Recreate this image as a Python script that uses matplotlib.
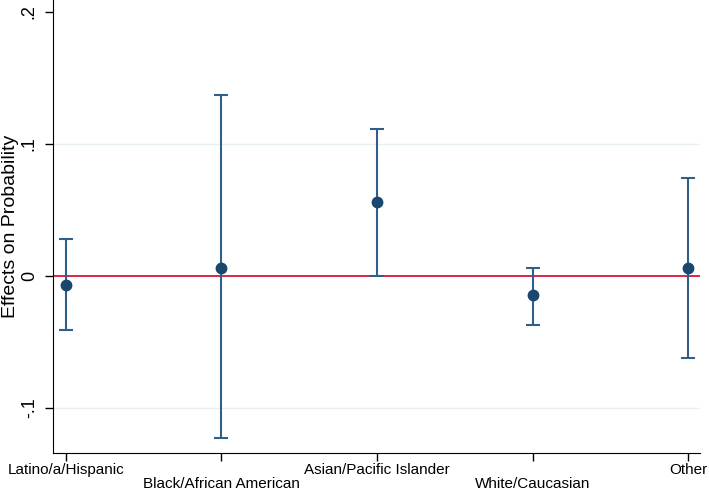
import matplotlib
matplotlib.use("Agg")
import matplotlib.pyplot as plt

plt.rcParams['font.family'] = ['Liberation Sans', 'DejaVu Sans']

# groups and estimates
groups = ["Latino/a/Hispanic", "Black/African American", "Asian/Pacific Islander",
          "White/Caucasian", "Other"]
effect = [-0.007, 0.006, 0.056, -0.0145, 0.006]
ci_low = [-0.041, -0.123, 0.0, -0.037, -0.062]
ci_high = [0.028, 0.137, 0.111, 0.006, 0.074]
yticks = [-0.1, 0, 0.1, 0.2]
ytick_labels = ["-.1", "0", ".1", ".2"]

navy = "#1a476f"
bar_col = "#2f5f8a"

fig = plt.figure(figsize=(7.09, 4.94), dpi=100)
ax = fig.add_axes([0.0748, 0.083, 0.913, 0.917])

x = list(range(1, len(groups) + 1))
err = [[e - l for e, l in zip(effect, ci_low)], [h - e for e, h in zip(effect, ci_high)]]

for yv in [-0.1, 0.1]:
    ax.axhline(yv, color="#e6eff2", lw=1.0, zorder=0)
ax.axhline(0, color="#d7264a", lw=1.4, zorder=1)

ax.errorbar(x, effect, yerr=err, fmt="none", ecolor=bar_col, elinewidth=1.5,
            capsize=5, capthick=1.5, zorder=2)
ax.plot(x, effect, "o", color=navy, ms=7.5, zorder=3)

ax.set_xlim(0.919, 5.077)
ax.set_ylim(-0.134, 0.209)
ax.set_xticks(x)
labels = ax.set_xticklabels([g if i % 2 == 0 else "\n" + g for i, g in enumerate(groups)],
                            fontsize=11)
for lab in labels:
    lab.set_linespacing(1.0)
ax.set_yticks(yticks)
ax.set_yticklabels(ytick_labels, fontsize=13, rotation=90, va="center")
ax.set_ylabel("Effects on Probability", fontsize=14)
ax.yaxis.set_label_coords(-0.066, 0.5)
ax.yaxis.label.set_va("center")

ax.spines["top"].set_visible(False)
ax.spines["right"].set_visible(False)
ax.tick_params(axis="both", direction="out", length=6, width=1)
ax.tick_params(axis="x", pad=1.5)
ax.tick_params(axis="y", pad=5)

fig.savefig("out.png", dpi=100)
